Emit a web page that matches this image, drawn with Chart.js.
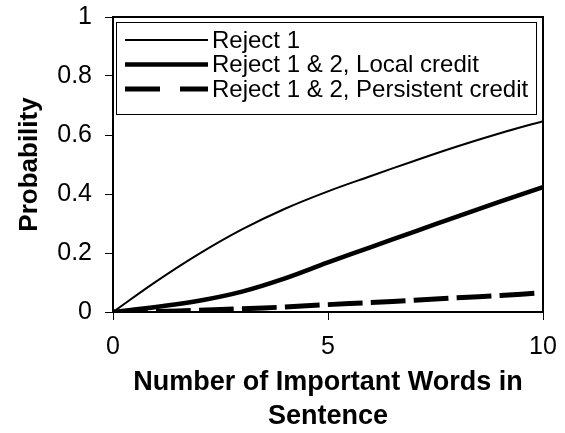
<!DOCTYPE html>
<html>
<head>
<meta charset="utf-8">
<script src="https://cdn.jsdelivr.net/npm/chart.js@4/dist/chart.umd.min.js"></script>
<style>
html,body{margin:0;padding:0;background:#fff;}
#wrap{width:565px;height:433px;position:relative;}
</style>
</head>
<body>
<div id="wrap"><canvas id="c" width="565" height="433"></canvas></div>
<script>
const xValues = [0, 1, 2, 3, 4, 5, 6, 7, 8, 9, 10];
const reject1 = [0, 0.103, 0.197, 0.28, 0.35, 0.409, 0.461, 0.512, 0.561, 0.606, 0.647];
const localCredit = [0, 0.017, 0.038, 0.069, 0.114, 0.168, 0.22, 0.272, 0.323, 0.374, 0.423];
const persistentCredit = [0, 0.002, 0.006, 0.011, 0.017, 0.025, 0.032, 0.04, 0.048, 0.056, 0.065];
const seriesNames = ['Reject 1', 'Reject 1 & 2, Local credit', 'Reject 1 & 2, Persistent credit'];
const xTitle = ['Number of Important Words in', 'Sentence'];
const yTitle = 'Probability';

const FONT = '"Liberation Sans", Arial, Helvetica, sans-serif';

function pts(arr){ return xValues.map((x,i)=>({x:x, y:arr[i]})); }

const framePlugin = {
  id: 'frameLegend',
  afterDatasetsDraw(chart){
    const {ctx, chartArea:a} = chart;
    ctx.save();
    ctx.strokeStyle = '#000';
    ctx.lineWidth = 2;
    ctx.strokeRect(a.left, a.top, a.right - a.left, a.bottom - a.top);
    const lx = 116.5, ly = 22.5, lw = 420, lh = 92;
    ctx.fillStyle = '#fff';
    ctx.fillRect(lx, ly, lw, lh);
    ctx.lineWidth = 1;
    ctx.strokeStyle = '#000';
    ctx.strokeRect(lx, ly, lw, lh);
    const rows = [40, 64.5, 89];
    ctx.font = '24px ' + FONT;
    ctx.textBaseline = 'middle';
    ctx.textAlign = 'left';
    chart.data.datasets.forEach((ds, i) => {
      const y = rows[i];
      ctx.beginPath();
      ctx.lineWidth = ds.borderWidth;
      ctx.setLineDash(i === 2 ? [35, 20] : []);
      ctx.lineCap = 'butt';
      ctx.moveTo(125, y);
      ctx.lineTo(208, y);
      ctx.stroke();
      ctx.setLineDash([]);
      ctx.fillStyle = '#000';
      ctx.fillText(ds.label, 212, y + 1);
    });
    ctx.restore();
  }
};

new Chart(document.getElementById('c'), {
  type: 'line',
  data: {
    datasets: [
      {label: seriesNames[0], data: pts(reject1), borderColor:'#000', borderWidth:2, pointRadius:0, fill:false, tension:0.4},
      {label: seriesNames[1], data: pts(localCredit), borderColor:'#000', borderWidth:4.5, pointRadius:0, fill:false, tension:0.4},
      {label: seriesNames[2], data: pts(persistentCredit), borderColor:'#000', borderWidth:5, borderDash:[35, 8], pointRadius:0, fill:false, tension:0.4}
    ]
  },
  options: {
    responsive: false,
    animation: false,
    devicePixelRatio: 1,
    layout: {padding: {left: 0, top: 17, right: 22, bottom: 0}},
    plugins: {legend: {display:false}, tooltip: {enabled:false}},
    scales: {
      x: {
        type: 'linear', min: 0, max: 10,
        ticks: {stepSize: 5, color:'#000', font:{family: FONT, size: 25}, padding: 12, maxRotation:0},
        grid: {display: true, drawOnChartArea: false, drawTicks: true, tickLength: 8, color:'#000', lineWidth: 1},
        border: {display: true, color:'#000', width: 2},
        title: {display: true, text: xTitle, color:'#000', font:{family: FONT, size: 27, weight:'bold', lineHeight: 1.25}, padding: {top: 0, bottom: 0}},
        afterFit(s){ s.height = 121; s.paddingLeft = 0; s.paddingRight = 0; s.paddingTop = 0; s.paddingBottom = 0; }
      },
      y: {
        type: 'linear', min: 0, max: 1,
        ticks: {stepSize: 0.2, color:'#000', font:{family: FONT, size: 25}, padding: 13,
                callback: v => String(Math.round(v * 10) / 10)},
        grid: {display: true, drawOnChartArea: false, drawTicks: true, tickLength: 8, color:'#000', lineWidth: 1},
        border: {display: true, color:'#000', width: 2},
        title: {display: true, text: yTitle, color:'#000', font:{family: FONT, size: 26, weight:'bold', lineHeight: 1.2}, padding: {top: 14, bottom: 0}},
        afterFit(s){ s.width = 113; s.paddingTop = 0; s.paddingBottom = 0; s.paddingLeft = 0; s.paddingRight = 0; }
      }
    }
  },
  plugins: [framePlugin]
});
</script>
</body>
</html>
